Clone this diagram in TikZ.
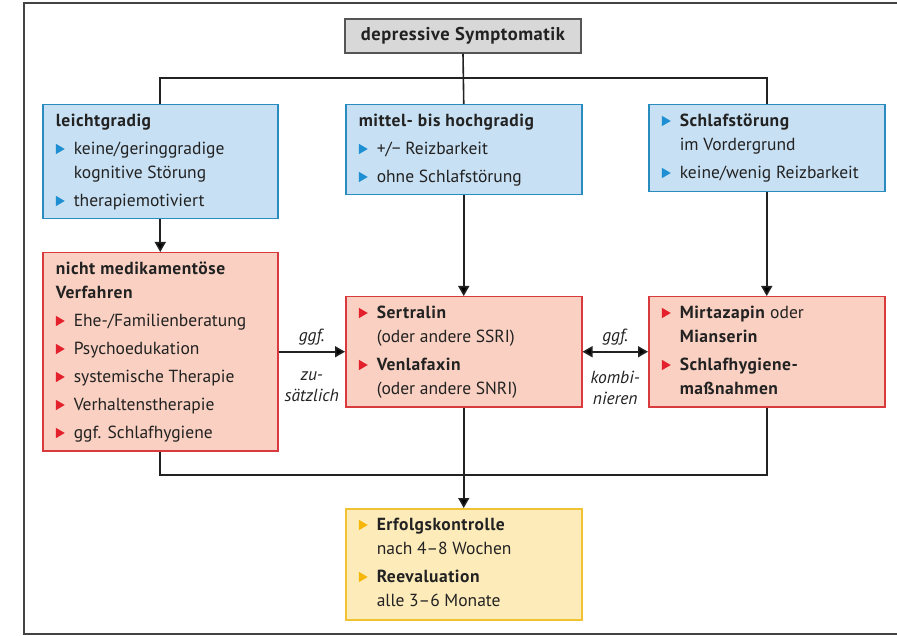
\documentclass[tikz,border=0pt]{standalone}
\usepackage{fontspec}
\setmainfont{PT Sans}[BoldFeatures={LetterSpace=3}]
\usetikzlibrary{arrows.meta}
\definecolor{bluefill}{HTML}{C8E0F3}
\definecolor{blueline}{HTML}{2A8BBE}
\definecolor{bluetri}{HTML}{1E8FD2}
\definecolor{redfill}{HTML}{F9D0C1}
\definecolor{redline}{HTML}{D83A3E}
\definecolor{redtri}{HTML}{E3202B}
\definecolor{yelfill}{HTML}{FDEBBA}
\definecolor{yelline}{HTML}{F1C232}
\definecolor{yeltri}{HTML}{F6B60A}
\definecolor{grayfill}{HTML}{D8D8D8}
\definecolor{grayline}{HTML}{555555}
\definecolor{ink}{HTML}{222222}
\newcommand{\tri}[1]{\tikz[baseline=0pt]\fill[#1] (0pt,0.5pt) -- (0pt,11pt) -- (9pt,5.75pt) -- cycle;}
\newcommand{\fstrut}{\rule{0pt}{22pt}}
\newcommand{\ttl}[1]{\noindent\fstrut\textbf{#1}}
\newcommand{\bitf}[2]{\hangindent=18pt\hangafter=1\noindent\fstrut\makebox[18pt][l]{\tri{#1}}#2}
\newcommand{\bit}[2]{\par\vspace{4pt}\hangindent=18pt\hangafter=1\noindent\makebox[18pt][l]{\tri{#1}}#2}
\newcommand{\bx}[3]{\begin{minipage}[t][#2pt][t]{#1pt}\fontsize{17.5}{24}\selectfont#3\end{minipage}}
\tikzset{
  boxbase/.style={draw, line width=1.5pt, inner xsep=13pt, inner ysep=0pt, anchor=north west, text=ink},
  bluebox/.style={boxbase, fill=bluefill, draw=blueline},
  redbox/.style={boxbase, fill=redfill, draw=redline},
  yelbox/.style={boxbase, fill=yelfill, draw=yelline},
  titlebox/.style={draw=grayline, fill=grayfill, line width=1.5pt, minimum width=236pt, minimum height=34pt, inner sep=0pt, font=\fontsize{18.5}{22}\selectfont\bfseries, text=ink},
  conn/.style={draw=ink, line width=1.6pt},
  arr/.style={conn, -{Triangle[width=11pt,length=10pt]}},
  dblarr/.style={conn, {Triangle[width=11pt,length=10pt]}-{Triangle[width=11pt,length=10pt]}},
  lbl/.style={font=\fontsize{17.5}{21}\selectfont\itshape, text=ink, align=center, inner sep=0pt}
}
\begin{document}
\begin{tikzpicture}[x=1pt,y=1pt]
\useasboundingbox (0,0) rectangle (897,-636);
\draw[line width=2.5pt, draw=ink!85] (897,-3) -- (24,-3) -- (24,-634) -- (897,-634);

\node[titlebox] (title) at (463,-36) {depressive Symptomatik};

\node[bluebox] (b1) at (42,-104) {\bx{209}{114}{\ttl{leichtgradig}
\bit{bluetri}{keine/geringgradige\\kognitive Störung}
\bit{bluetri}{therapiemotiviert}}};

\node[bluebox] (b2) at (345,-104) {\bx{210}{90}{\ttl{mittel- bis hochgradig}
\bit{bluetri}{+/− Reizbarkeit}
\bit{bluetri}{ohne Schlafstörung}}};

\node[bluebox] (b3) at (648,-104) {\bx{210}{87}{\bitf{bluetri}{\textbf{Schlafstörung}\\im Vordergrund}
\bit{bluetri}{keine/wenig Reizbarkeit}}};

\node[redbox] (r1) at (42,-252) {\bx{209}{198}{\ttl{nicht medikamentöse\\Verfahren}
\bit{redtri}{Ehe-/Familienberatung}
\bit{redtri}{Psychoedukation}
\bit{redtri}{systemische Therapie}
\bit{redtri}{Verhaltenstherapie}
\bit{redtri}{ggf. Schlafhygiene}}};

\node[redbox] (r2) at (345,-296) {\bx{210}{110}{\bitf{redtri}{\textbf{Sertralin}\\(oder andere SSRI)}
\bit{redtri}{\textbf{Venlafaxin}\\(oder andere SNRI)}}};

\node[redbox] (r3) at (648,-296) {\bx{210}{110}{\bitf{redtri}{\textbf{Mirtazapin} oder\\\textbf{Mianserin}}
\bit{redtri}{\textbf{Schlafhygiene-}\\\textbf{maßnahmen}}}};

\node[yelbox] (y1) at (345,-508) {\bx{210}{111}{\bitf{yeltri}{\textbf{Erfolgskontrolle}\\nach 4–8 Wochen}
\bit{yeltri}{\textbf{Reevaluation}\\alle 3–6 Monate}}};

\coordinate (top) at (463,-78);
\coordinate (bot) at (463,-475);

\draw[conn] (title.south) -- (b2.north);
\draw[conn] (b1.north) |- (top) -| (b3.north);
\draw[arr] (b1.south) -- (r1.north);
\draw[arr] (b2.south) -- (r2.north);
\draw[arr] (b3.south) -- (r3.north);
\draw[arr] (r1.east) -- (r2.west)
  node[lbl, midway, above=6pt] (l1) {ggf.}
  node[lbl, midway, below=19pt] (l2) {zu-\\sätzlich};
\draw[dblarr] (r2.east) -- (r3.west)
  node[lbl, midway, above=6pt] (l3) {ggf.}
  node[lbl, midway, below=19pt] (l4) {kombi-\\nieren};
\draw[conn] (r1.south) |- (bot) -| (r3.south);
\draw[arr] (r2.south) -- (y1.north);
\end{tikzpicture}
\end{document}
